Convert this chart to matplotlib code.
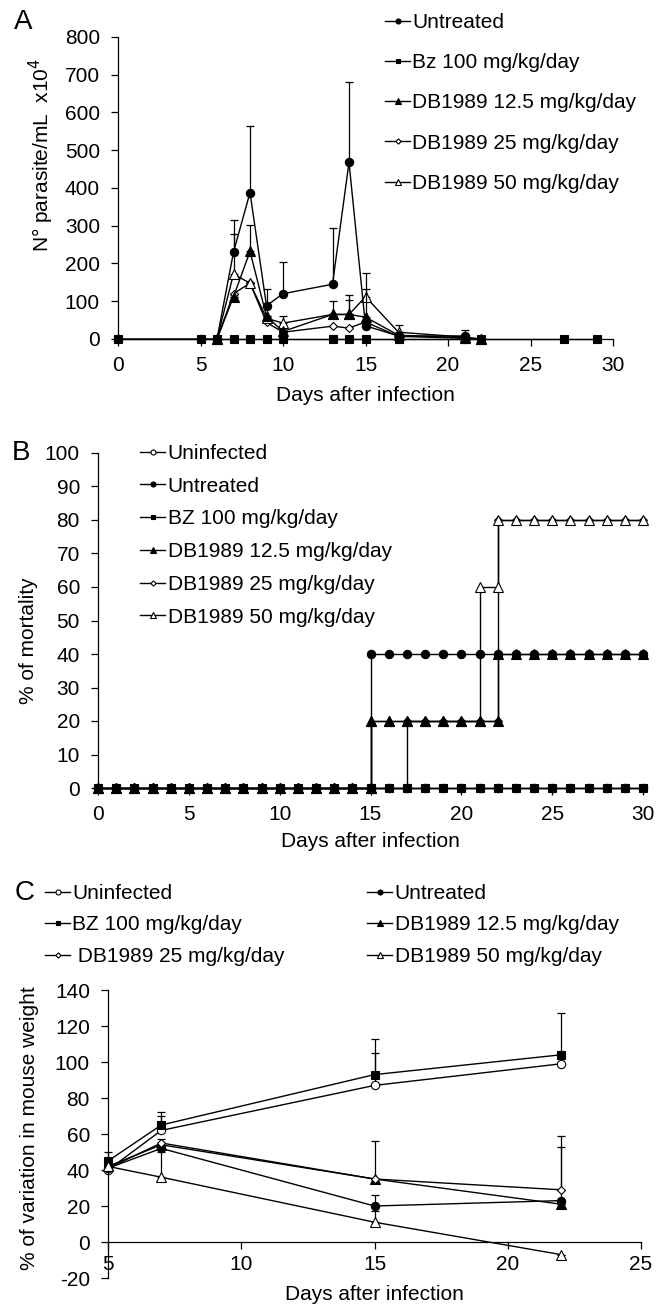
import matplotlib
matplotlib.use("Agg")
import matplotlib.pyplot as plt

plt.rcParams['font.family'] = ['Liberation Sans', 'DejaVu Sans']
plt.rcParams['axes.unicode_minus'] = False

# ---- panel A: parasitemia ----
a_days_untr = [0, 5, 6, 7, 8, 9, 10, 13, 14, 15, 17, 21]
a_untr = [0, 0, 0, 230, 388, 88, 120, 145, 468, 35, 8, 8]
a_untr_err = [0, 0, 0, 85, 177, 45, 85, 148, 214, 0, 0, 17]
a_days_bz = [0, 5, 6, 7, 8, 9, 10, 13, 14, 15, 17, 21, 22, 27, 29]
a_bz = [0, 0, 0, 0, 0, 0, 0, 0, 0, 0, 0, 0, 0, 0, 0]
a_days_db = [6, 7, 8, 9, 10, 13, 14, 15, 17, 21, 22]
a_db125 = [0, 112, 232, 60, 20, 65, 65, 58, 10, 3, 0]
a_db125_err = [0, 0, 70, 0, 0, 35, 52, 75, 0, 0, 0]
a_db25 = [0, 120, 148, 44, 18, 34, 29, 45, 7, 2, 0]
a_db25_err = [0, 0, 0, 0, 0, 0, 0, 0, 0, 0, 0]
a_db50 = [0, 172, 148, 55, 42, 65, 65, 112, 18, 5, 0]
a_db50_err = [0, 106, 0, 0, 18, 0, 38, 63, 20, 0, 0]

# ---- panel B: mortality (repeated x gives the steps) ----
b_days_flat = list(range(0, 31))
b_uninf = [0] * 31
b_bz = [0] * 31
b_days_untr = list(range(0, 16)) + list(range(15, 31))
b_untr = [0] * 16 + [40] * 16
b_days_125 = list(range(0, 16)) + list(range(15, 23)) + list(range(22, 31))
b_125 = [0] * 16 + [20] * 8 + [40] * 9
b_days_25 = list(range(0, 18)) + list(range(17, 23)) + list(range(22, 31))
b_25 = [0] * 18 + [20] * 6 + [80] * 9
b_days_50 = list(range(0, 16)) + list(range(15, 22)) + [21, 22] + list(range(22, 31))
b_50 = [0] * 16 + [20] * 7 + [60, 60] + [80] * 9

# ---- panel C: weight ----
c_days = [5, 7, 15, 22]
c_uninf = [40, 62, 87, 99]
c_uninf_err = [0, 8, 18, 0]
c_untr = [41, 52, 20, 23]
c_untr_err = [0, 0, 6, 30]
c_bz = [45, 65, 93, 104]
c_bz_err = [5, 7, 20, 23]
c_db125 = [42, 54, 35, 21]
c_db125_err = [0, 3, 21, 0]
c_db25 = [41, 55, 35, 29]
c_db25_err = [0, 0, 0, 30]
c_db50 = [42, 36, 11, -7]
c_db50_err = [0, 14, 6, 0]

W, H = 666, 1305
fig = plt.figure(figsize=(W / 100, H / 100), dpi=100)


def px_axes(x0, x1, ytop, ybot):
    return fig.add_axes([x0 / W, 1 - ybot / H, (x1 - x0) / W, (ybot - ytop) / H])


FS = 15

styles = {
    'uninf': dict(marker='o', mfc='white', ms=6),
    'untr': dict(marker='o', mfc='black', ms=6),
    'bz': dict(marker='s', mfc='black', ms=5.5),
    'db125': dict(marker='^', mfc='black', ms=6.5),
    'db25': dict(marker='D', mfc='white', ms=4.5),
    'db50': dict(marker='^', mfc='white', ms=6.5),
}


def series(ax, x, y, key, label, err=None, z=2):
    st = styles[key]
    ax.plot(x, y, color='black', lw=1, marker=st['marker'], mfc=st['mfc'],
            mec='black', mew=0.8, ms=st['ms'], label=label, zorder=z,
            clip_on=False)
    if err is not None:
        ax.errorbar(x, y, yerr=[[0] * len(err), err], fmt='none', ecolor='black',
                    elinewidth=0.9, capsize=3, capthick=0.9, zorder=z - 0.5,
                    clip_on=False)


def style_axes(ax):
    ax.spines['top'].set_visible(False)
    ax.spines['right'].set_visible(False)
    ax.tick_params(direction='out', length=5, width=0.9, labelsize=FS)
    ax.tick_params(axis='y', pad=8)
    ax.tick_params(axis='x', pad=7)
    for s in ax.spines.values():
        s.set_linewidth(0.9)


def legend(ax, handles, labels, x, y, spacing, ncol=1, colsp=2.0):
    return ax.legend(handles, labels, loc='upper left', bbox_to_anchor=(x / W, 1 - y / H),
                     bbox_transform=fig.transFigure, frameon=False, fontsize=FS,
                     handlelength=1.2, handletextpad=0.12, labelspacing=spacing,
                     markerscale=0.6, borderpad=0, borderaxespad=0, ncol=ncol,
                     columnspacing=colsp)


def pick(ax, order):
    h, l = ax.get_legend_handles_labels()
    return [h[l.index(o)] for o in order], order


# ---------- A ----------
axA = px_axes(118, 613, 37, 339)
series(axA, a_days_bz, a_bz, 'bz', 'Bz 100 mg/kg/day', z=2)
series(axA, a_days_db, a_db25, 'db25', 'DB1989 25 mg/kg/day', a_db25_err, z=3)
series(axA, a_days_db, a_db50, 'db50', 'DB1989 50 mg/kg/day', a_db50_err, z=4)
series(axA, a_days_db, a_db125, 'db125', 'DB1989 12.5 mg/kg/day', a_db125_err, z=5)
series(axA, a_days_untr, a_untr, 'untr', 'Untreated', a_untr_err, z=6)
axA.set_xlim(0, 30)
axA.set_ylim(0, 800)
axA.set_xticks([0, 5, 10, 15, 20, 25, 30])
axA.set_yticks(range(0, 801, 100))
style_axes(axA)
axA.set_xlabel('Days after infection', fontsize=FS)
axA.xaxis.set_label_coords(0.5, -0.155)
axA.set_ylabel('N° parasite/mL  x10$^4$', fontsize=FS)
axA.yaxis.set_label_coords(-0.125, 0.61)
hs, ls = pick(axA, ['Untreated', 'Bz 100 mg/kg/day', 'DB1989 12.5 mg/kg/day',
                    'DB1989 25 mg/kg/day', 'DB1989 50 mg/kg/day'])
legend(axA, hs, ls, 385, 13, 1.02)
fig.text(14 / W, 1 - 22 / H, 'A', fontsize=20, va='center')

# ---------- B ----------
axB = px_axes(98, 643, 453, 788)
series(axB, b_days_flat, b_uninf, 'uninf', 'Uninfected', z=2)
series(axB, b_days_25, b_25, 'db25', 'DB1989 25 mg/kg/day', z=3)
series(axB, b_days_50, b_50, 'db50', 'DB1989 50 mg/kg/day', z=4)
series(axB, b_days_125, b_125, 'db125', 'DB1989 12.5 mg/kg/day', z=5)
series(axB, b_days_untr, b_untr, 'untr', 'Untreated', z=6)
series(axB, b_days_flat, b_bz, 'bz', 'BZ 100 mg/kg/day', z=7)
axB.set_xlim(0, 30)
axB.set_ylim(0, 100)
axB.set_xticks([0, 5, 10, 15, 20, 25, 30])
axB.set_yticks(range(0, 101, 10))
style_axes(axB)
axB.set_xlabel('Days after infection', fontsize=FS)
axB.xaxis.set_label_coords(0.5, -0.13)
axB.set_ylabel('% of mortality', fontsize=FS)
axB.yaxis.set_label_coords(-0.11, 0.44)
hs, ls = pick(axB, ['Uninfected', 'Untreated', 'BZ 100 mg/kg/day', 'DB1989 12.5 mg/kg/day',
                    'DB1989 25 mg/kg/day', 'DB1989 50 mg/kg/day'])
legend(axB, hs, ls, 140, 444, 0.66)
fig.text(12 / W, 1 - 453 / H, 'B', fontsize=20, va='center')

# ---------- C ----------
axC = px_axes(108, 641, 990, 1278)
series(axC, c_days, c_uninf, 'uninf', 'Uninfected', c_uninf_err, z=2)
series(axC, c_days, c_untr, 'untr', 'Untreated', c_untr_err, z=3)
series(axC, c_days, c_bz, 'bz', 'BZ 100 mg/kg/day', c_bz_err, z=4)
series(axC, c_days, c_db125, 'db125', 'DB1989 12.5 mg/kg/day', c_db125_err, z=5)
series(axC, c_days, c_db25, 'db25', ' DB1989 25 mg/kg/day', c_db25_err, z=6)
series(axC, c_days, c_db50, 'db50', 'DB1989 50 mg/kg/day', c_db50_err, z=7)
axC.set_xlim(5, 25)
axC.set_ylim(-20, 140)
axC.set_xticks([5, 10, 15, 20, 25])
axC.set_yticks(range(-20, 141, 20))
style_axes(axC)
axC.tick_params(axis='x', pad=4)
axC.spines['bottom'].set_position(('data', 0))
axC.set_xlabel('Days after infection', fontsize=FS)
axC.xaxis.set_label_coords(0.5, -0.025)
axC.set_ylabel('% of variation in mouse weight', fontsize=FS)
axC.yaxis.set_label_coords(-0.13, 0.52)
hs, ls = pick(axC, ['Uninfected', 'BZ 100 mg/kg/day', ' DB1989 25 mg/kg/day',
                    'Untreated', 'DB1989 12.5 mg/kg/day', 'DB1989 50 mg/kg/day'])
legend(axC, hs, ls, 45, 884, 0.6, ncol=2, colsp=3.95)
fig.text(15 / W, 1 - 893 / H, 'C', fontsize=20, va='center')

fig.savefig('out.png', dpi=100)
